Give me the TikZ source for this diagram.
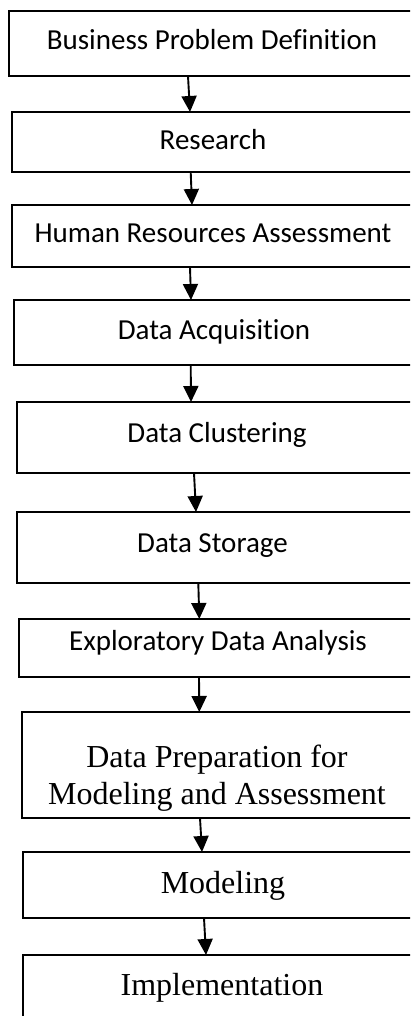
\documentclass[tikz,border=0pt]{standalone}
\usepackage{fontspec}
\setmainfont{Carlito}[Ligatures=NoCommon]
\newfontfamily\tnr{Liberation Serif}
\usetikzlibrary{arrows.meta}
\begin{document}
\begin{tikzpicture}[x=1pt,y=-1pt,
  bx/.style={draw=black, line width=1.9pt, rectangle, inner sep=0pt, outer sep=0pt,
    anchor=north west},
  sans/.style={font=\fontsize{29}{34}\selectfont, inner sep=0pt, anchor=base},
  serif/.style={font=\tnr\fontsize{32}{37}\selectfont, inner sep=0pt, anchor=base},
  arr/.style={line width=1.9pt, -{Triangle[length=16pt,width=15pt]}}]
\useasboundingbox (0,0) rectangle (410,1016);
\clip (0,0) rectangle (410,1016);
% boxes (right edges lie beyond the picture)
\node[bx,minimum width=421pt,minimum height=65pt] (b1) at (9,11) {};
\node[bx,minimum width=418pt,minimum height=60pt] (b2) at (12,112) {};
\node[bx,minimum width=418pt,minimum height=62pt] (b3) at (12,205) {};
\node[bx,minimum width=416pt,minimum height=65pt] (b4) at (14,300) {};
\node[bx,minimum width=413pt,minimum height=71pt] (b5) at (17,402) {};
\node[bx,minimum width=413pt,minimum height=71pt] (b6) at (17,512) {};
\node[bx,minimum width=411pt,minimum height=58pt] (b7) at (19,619) {};
\node[bx,minimum width=408pt,minimum height=106pt] (b8) at (22,712) {};
\node[bx,minimum width=407pt,minimum height=66pt] (b9) at (23,852) {};
\node[bx,minimum width=407pt,minimum height=85pt] (b10) at (23,955) {};
% texts
\node[sans] (t1) at (212,50) {Business Problem Definition};
\node[sans] (t2) at (213,150) {Research};
\node[sans] (t3) at (213,243) {Human Resources Assessment};
\node[sans] (t4) at (214,339) {Data Acquisition};
\node[sans] (t5) at (217,442) {Data Clustering};
\node[sans] (t6) at (212.5,552) {Data Storage};
\node[sans] (t7) at (218,650) {Exploratory Data Analysis};
\node[font=\tnr\fontsize{32}{37}\selectfont, inner sep=0pt, align=center] (t8) at (217,778) {Data Preparation for\\Modeling and Assessment};
\node[serif] (t9) at (223,893) {Modeling};
\node[serif] (t10) at (222,995) {Implementation};
% arrows
\draw[arr] ([xshift=179pt]b1.south west) -- ([xshift=178pt]b2.north west);
\draw[arr] ([xshift=178.7pt]b2.south west) -- ([xshift=180pt]b3.north west);
\draw[arr] ([xshift=178pt]b3.south west) -- ([xshift=177pt]b4.north west);
\draw[arr] ([xshift=176.7pt]b4.south west) -- ([xshift=174pt]b5.north west);
\draw[arr] ([xshift=177pt]b5.south west) -- ([xshift=179pt]b6.north west);
\draw[arr] ([xshift=181.3pt]b6.south west) -- ([xshift=180.3pt]b7.north west);
\draw[arr] ([xshift=180pt]b7.south west) -- ([xshift=177.3pt]b8.north west);
\draw[arr] ([xshift=178pt]b8.south west) -- ([xshift=179pt]b9.north west);
\draw[arr] ([xshift=181pt]b9.south west) -- ([xshift=183pt]b10.north west);
\end{tikzpicture}
\end{document}
